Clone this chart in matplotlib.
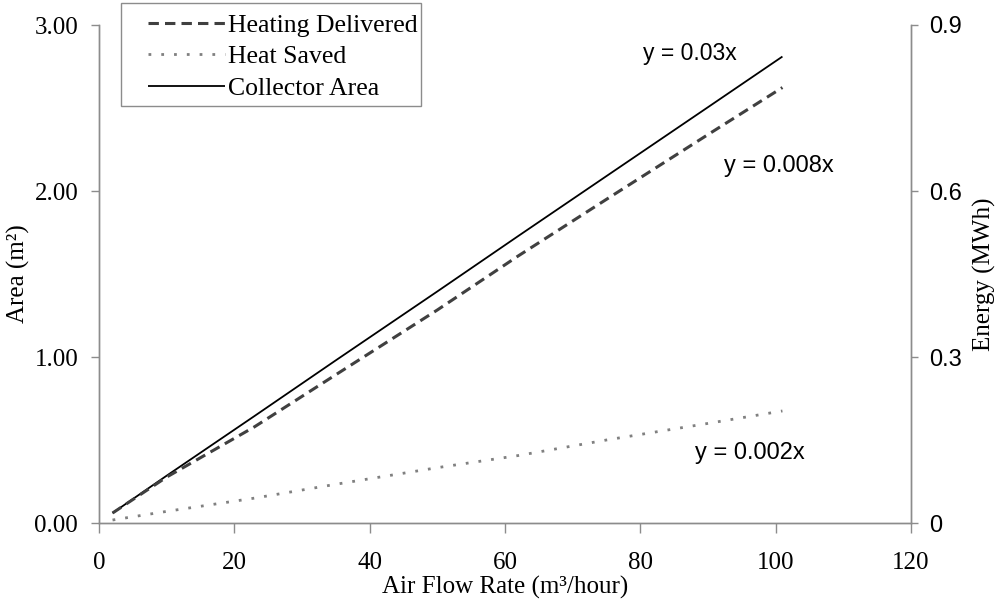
import matplotlib
matplotlib.use("Agg")
import matplotlib.pyplot as plt
from matplotlib.patches import Rectangle

# ---- data ----
flow = [2, 10, 23, 35, 50, 62, 75, 90, 101]
collector_area = [0.06, 0.285, 0.645, 0.98, 1.395, 1.73, 2.09, 2.505, 2.81]
heating_delivered = [0.018, 0.083, 0.174, 0.268, 0.385, 0.483, 0.585, 0.702, 0.787]
heat_saved = [0.0054, 0.021, 0.045, 0.070, 0.100, 0.122, 0.150, 0.180, 0.2025]

x_ticks = [0, 20, 40, 60, 80, 100, 120]
area_ticks = [0.0, 1.0, 2.0, 3.0]
energy_ticks = [0, 0.3, 0.6, 0.9]
energy_tick_labels = ["0", "0.3", "0.6", "0.9"]

serif = "Liberation Serif"
sans = "Liberation Sans"
spine_col = "#8c8c8c"
W, H = 998, 599
AX_L, AX_R, AX_T, AX_B = 99, 911, 25, 523

fig = plt.figure(figsize=(9.98, 5.99), dpi=100)
ax = fig.add_axes([AX_L / W, 1 - AX_B / H, (AX_R - AX_L) / W, (AX_B - AX_T) / H])
ax2 = ax.twinx()

l_coll, = ax.plot(flow, collector_area, color="black", lw=1.3, solid_capstyle="butt")
l_heat, = ax2.plot(flow, heating_delivered, color="#404040", lw=2.2, dashes=(3.4, 2.0))
l_saved, = ax2.plot(flow, heat_saved, color="#808080", lw=2.0, dashes=(1, 3.6))

ax.set_xlim(0, 120)
ax.set_ylim(0, 3)
ax2.set_ylim(0, 0.9)

ax.set_xticks(x_ticks)
ax.set_xticklabels([str(v) for v in x_ticks], fontfamily=serif, fontsize=18)
ax.set_yticks(area_ticks)
ax.set_yticklabels([f"{v:.2f}" for v in area_ticks], fontfamily=serif, fontsize=18)
ax2.set_yticks(energy_ticks)
ax2.set_yticklabels(energy_tick_labels, fontfamily=sans, fontsize=17)

for a in (ax, ax2):
    for s in a.spines.values():
        s.set_color(spine_col)
        s.set_linewidth(1.0)
    a.spines["top"].set_visible(False)

ax.tick_params(axis="x", direction="out", length=7, width=1, color=spine_col, pad=14)
ax.tick_params(axis="y", direction="out", length=6, width=1, color=spine_col, pad=9)
ax2.tick_params(axis="y", direction="out", length=5, width=1, color=spine_col, pad=8)

ax.set_xlabel("Air Flow Rate (m³/hour)", fontfamily=serif, fontsize=18, va="center")
ax.xaxis.set_label_coords(0.5, (AX_B - 587) / (AX_B - AX_T))
ax.set_ylabel("Area (m²)", fontfamily=serif, fontsize=18, va="center")
ax.yaxis.set_label_coords((18 - AX_L) / (AX_R - AX_L), 0.5)
ax2.set_ylabel("Energy (MWh)", fontfamily=serif, fontsize=18, va="center")
ax2.yaxis.set_label_coords((984 - AX_L) / (AX_R - AX_L), 0.5)

ax.text(87.3, 2.83, "y = 0.03x", fontfamily=sans, fontsize=16.5, ha="center", va="center")
ax2.text(100.5, 0.645, "y = 0.008x", fontfamily=sans, fontsize=17, ha="center", va="center")
ax2.text(96.2, 0.126, "y = 0.002x", fontfamily=sans, fontsize=17, ha="center", va="center")

# legend frame drawn in figure pixels
fig.patches.append(Rectangle((121 / W, 1 - 106 / H), 300 / W, 103 / H,
                             transform=fig.transFigure, fill=False,
                             edgecolor=spine_col, linewidth=1.0))
leg = fig.legend([l_heat, l_saved, l_coll],
                 ["Heating Delivered", "Heat Saved", "Collector Area"],
                 loc="upper left", bbox_to_anchor=(148 / W, 1 - 14 / H),
                 prop={"family": serif, "size": 18.5}, frameon=False,
                 handlelength=3.0, handletextpad=0.12, labelspacing=0.33,
                 borderpad=0, borderaxespad=0)

fig.savefig("out.png", dpi=100)
